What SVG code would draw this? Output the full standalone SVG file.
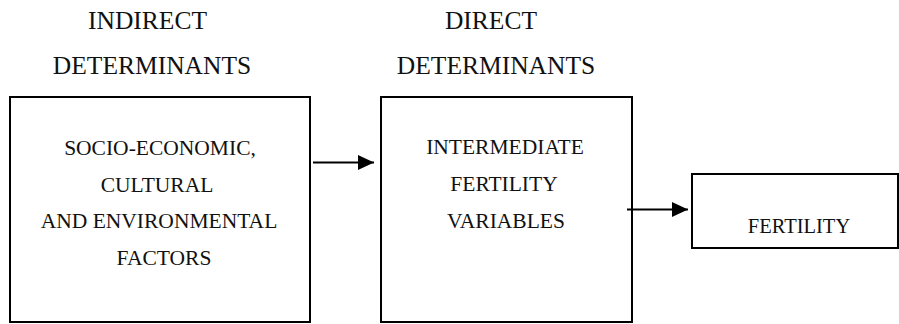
<svg xmlns="http://www.w3.org/2000/svg" width="899" height="324" viewBox="0 0 899 324">
<style>
.box{fill:#fff;stroke:#000;stroke-width:2}
.h{font-family:"Liberation Serif","Times New Roman",serif;font-size:25.5px;fill:#111;text-anchor:middle}
.t{font-family:"Liberation Serif","Times New Roman",serif;font-size:21.5px;fill:#111;text-anchor:middle}
.c{stroke:#000;stroke-width:2;fill:none}
</style>
<defs>
<marker id="ah" markerWidth="16" markerHeight="15" refX="16" refY="7.5" orient="auto" markerUnits="userSpaceOnUse">
<path d="M0,0 L16,7.5 L0,15 Z" fill="#000"/>
</marker>
</defs>
<g id="headings">
<text class="h" x="147.5" y="29.3">INDIRECT</text>
<text class="h" x="152" y="74">DETERMINANTS</text>
<text class="h" x="491" y="29.3">DIRECT</text>
<text class="h" x="496" y="74">DETERMINANTS</text>
</g>
<g id="node-socio">
<rect class="box" x="10" y="97" width="300" height="225"/>
<text class="t" x="160" y="155">SOCIO-ECONOMIC,</text>
<text class="t" x="157" y="191.7">CULTURAL</text>
<text class="t" x="159" y="228.3">AND ENVIRONMENTAL</text>
<text class="t" x="164" y="265">FACTORS</text>
</g>
<g id="node-intermediate">
<rect class="box" x="381" y="97" width="251" height="225"/>
<text class="t" x="505" y="154">INTERMEDIATE</text>
<text class="t" x="504" y="191">FERTILITY</text>
<text class="t" x="506" y="227.5">VARIABLES</text>
</g>
<g id="node-fertility">
<rect class="box" x="692" y="174" width="206" height="74"/>
<text class="t" x="799" y="233" style="font-size:20.5px">FERTILITY</text>
</g>
<g id="connectors">
<line class="c" x1="313" y1="162.5" x2="374" y2="162.5" marker-end="url(#ah)"/>
<line class="c" x1="627" y1="209.5" x2="688" y2="209.5" marker-end="url(#ah)"/>
</g>
</svg>
